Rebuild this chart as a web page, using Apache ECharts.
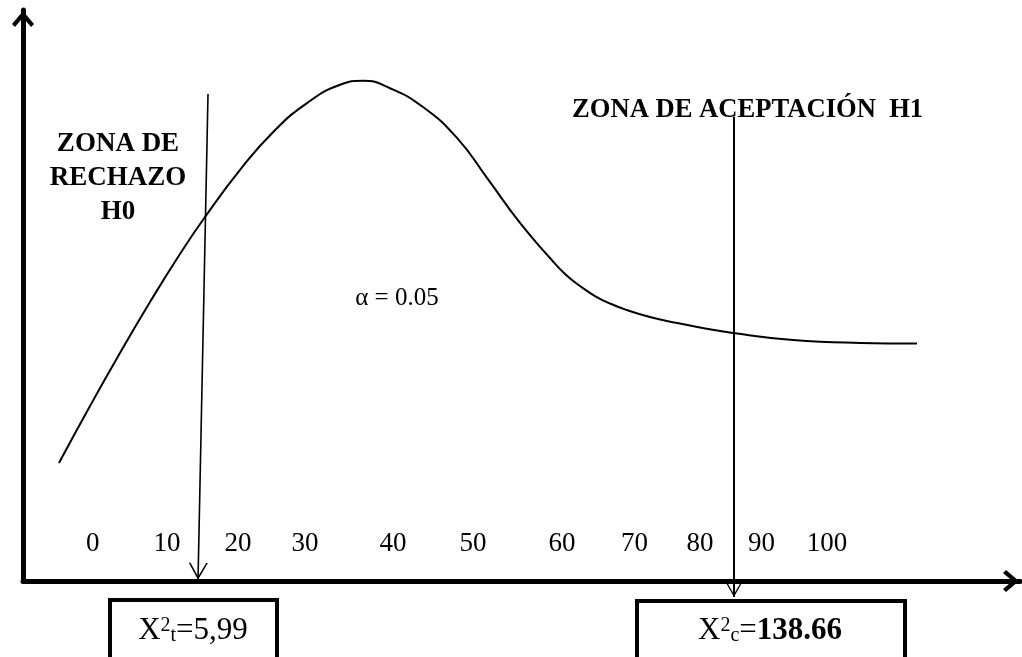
<!DOCTYPE html>
<html>
<head>
<meta charset="utf-8">
<script src="https://cdn.jsdelivr.net/npm/echarts@6.0.0/dist/echarts.min.js"></script>
<style>
html,body{margin:0;padding:0;background:#fff;}
#chart{width:1022px;height:657px;}
</style>
</head>
<body>
<div id="chart"></div>
<script>
// Curve (schematic chi-square shape)
const curveX = [-4.60, -0.37, 3.71, 7.80, 11.88, 15.29, 20.06, 24.55, 29.18, 33.68, 36.81, 40.49, 44.98, 49.61, 53.70, 58.20, 62.28, 64.33, 66.37, 68.41, 70.45, 72.77, 75.90, 79.58, 82.71, 87.21, 95.38, 104.51, 112.27];
const curveY = [20.67, 30.65, 39.93, 48.86, 57.27, 63.75, 72.0, 78.6, 83.7, 86.9, 87.6, 86.3, 83.0, 77.6, 70.6, 62.7, 56.57, 53.77, 51.66, 49.91, 48.60, 47.46, 46.23, 45.18, 44.40, 43.43, 42.2, 41.7, 41.6];

// Tick labels written along the axis and where they sit
const tickLabels = ['0', '10', '20', '30', '40', '50', '60', '70', '80', '90', '100'];
const tickPositions = [0, 10.1, 19.8, 28.9, 40.9, 51.8, 63.9, 73.8, 82.7, 91.1, 100];

// Critical-value arrows [x, y] start -> end
const arrowTabla = [[15.70, 85.3], [14.34, 0.2]];
const arrowCalc = [[87.34, 81.3], [87.34, -2.8]];

// Texts
const zonaRechazo = 'ZONA DE\nRECHAZO\nH0';
const zonaAceptacion = 'ZONA DE ACEPTACIÓN  H1';
const alphaText = 'α = 0.05';
const chiTabla = '5,99';
const chiCalc = '138.66';

const FONT = '"Liberation Serif", "Times New Roman", serif';
const axisArrow = 'path://M11,0 L11.01,0 Z M0,31 L11,18 L22,31 L19,34 L11,24.5 L3,34 Z';
const thinArrow = 'path://M0,0 L0.01,0 Z M32,0 L31.99,0 Z M7,32 L16,16 L25,32 L23.4,32 L16,19.2 L8.6,32 Z';

const chart = echarts.init(document.getElementById('chart'), null, {renderer: 'canvas'});
const option = {
  backgroundColor: '#fff',
  animation: false,
  grid: {left: 23, right: 2, top: 10, bottom: 76, containLabel: false},
  xAxis: {
    type: 'value', min: -9.5, max: 126.3,
    splitLine: {show: false},
    axisTick: {show: false},
    axisLine: {show: true, onZero: false, symbol: ['none', axisArrow], symbolSize: [22, 36],
      lineStyle: {color: '#000', width: 5}},
    axisLabel: {
      show: true, inside: true, margin: 24,
      customValues: tickPositions,
      formatter: function (v) { const i = tickPositions.indexOf(v); return i >= 0 ? tickLabels[i] : ''; },
      fontSize: 27, color: '#000', fontFamily: FONT
    }
  },
  yAxis: {
    type: 'value', min: 0, max: 100,
    splitLine: {show: false},
    axisTick: {show: false},
    axisLabel: {show: false},
    axisLine: {show: true, onZero: false, symbol: ['none', axisArrow], symbolSize: [22, 44],
      lineStyle: {color: '#000', width: 5}}
  },
  series: [
    {
      type: 'line', smooth: 0.5, showSymbol: false, symbol: 'none',
      lineStyle: {color: '#000', width: 2},
      data: curveX.map((x, i) => [x, curveY[i]]),
      z: 2
    },
    {
      type: 'lines', coordinateSystem: 'cartesian2d', clip: false,
      symbol: ['none', thinArrow], symbolSize: 34,
      lineStyle: {color: '#000', width: 1.6, opacity: 1, curveness: 0},
      data: [{coords: arrowTabla}],
      z: 3
    },
    {
      type: 'lines', coordinateSystem: 'cartesian2d', clip: false,
      symbol: ['none', thinArrow], symbolSize: 28,
      lineStyle: {color: '#000', width: 2, opacity: 1, curveness: 0},
      data: [{coords: arrowCalc}],
      z: 3
    }
  ],
  graphic: [
    {type: 'text', x: 118, y: 178, z: 10,
      style: {text: zonaRechazo, fontSize: 27, fontWeight: 'bold', fontFamily: FONT, fill: '#000',
        align: 'center', verticalAlign: 'middle', lineHeight: 34}},
    {type: 'text', x: 572, y: 110, z: 10,
      style: {text: zonaAceptacion, fontSize: 26.6, fontWeight: 'bold', fontFamily: FONT, fill: '#000',
        align: 'left', verticalAlign: 'middle'}},
    {type: 'text', x: 397, y: 298, z: 10,
      style: {text: alphaText, fontSize: 25, fontFamily: FONT, fill: '#000',
        align: 'center', verticalAlign: 'middle'}},
    {type: 'rect', z: 10, shape: {x: 110, y: 600, width: 167, height: 80},
      style: {fill: '#fff', stroke: '#000', lineWidth: 4}},
    {type: 'rect', z: 10, shape: {x: 637, y: 601, width: 268, height: 80},
      style: {fill: '#fff', stroke: '#000', lineWidth: 4}},
    {type: 'text', x: 193, y: 630, z: 11,
      style: {text: '{n|X}{sup|2}{sub|t}{n|=' + chiTabla + '}', align: 'center', verticalAlign: 'middle',
        rich: {
          n: {fontSize: 31, fontFamily: FONT, fill: '#000', lineHeight: 32, verticalAlign: 'bottom'},
          sup: {fontSize: 20, fontFamily: FONT, fill: '#000', lineHeight: 20, verticalAlign: 'top', padding: [2, 0, 0, 0]},
          sub: {fontSize: 20, fontFamily: FONT, fill: '#000', lineHeight: 20, verticalAlign: 'bottom'}
        }}},
    {type: 'text', x: 770, y: 630, z: 11,
      style: {text: '{n|X}{sup|2}{sub|c}{n|=}{b|' + chiCalc + '}', align: 'center', verticalAlign: 'middle',
        rich: {
          n: {fontSize: 31, fontFamily: FONT, fill: '#000', lineHeight: 32, verticalAlign: 'bottom'},
          b: {fontSize: 31, fontFamily: FONT, fontWeight: 'bold', fill: '#000', lineHeight: 32, verticalAlign: 'bottom'},
          sup: {fontSize: 20, fontFamily: FONT, fill: '#000', lineHeight: 20, verticalAlign: 'top', padding: [2, 0, 0, 0]},
          sub: {fontSize: 20, fontFamily: FONT, fill: '#000', lineHeight: 20, verticalAlign: 'bottom'}
        }}}
  ]
};
chart.setOption(option);
</script>
</body>
</html>
